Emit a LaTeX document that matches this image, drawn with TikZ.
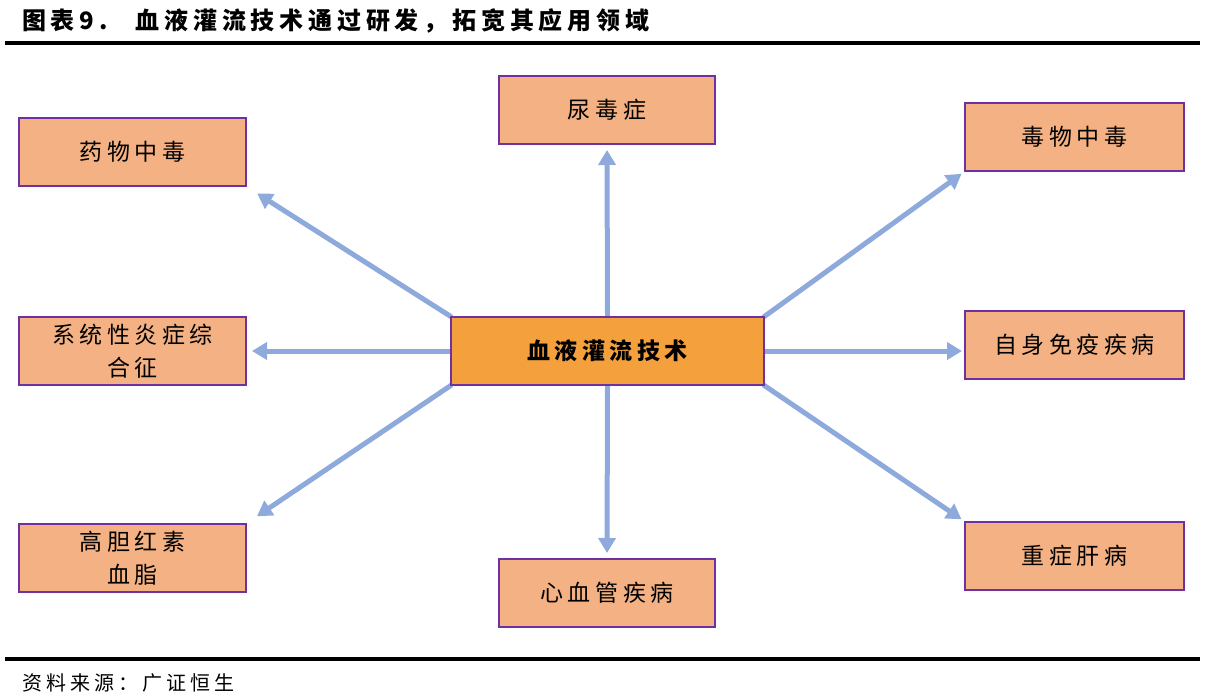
\documentclass[tikz,border=0pt]{standalone}
\usepackage{fontspec}
\setmainfont{Noto Sans CJK SC}
\newfontfamily\boxfont[LetterSpace=20]{Noto Sans CJK SC}
\newfontfamily\titlefont[LetterSpace=20]{Noto Sans CJK SC}
\usetikzlibrary{arrows.meta,backgrounds}
\definecolor{boxfill}{HTML}{F4B183}
\definecolor{boxline}{HTML}{7030A0}
\definecolor{cfill}{HTML}{F4A03C}
\definecolor{arr}{HTML}{8EA9DB}
\begin{document}
\begin{tikzpicture}[x=1pt,y=-1pt,
  leaf/.style={draw=boxline,fill=boxfill,line width=2pt,inner sep=0pt,
    align=center,font=\boxfont\fontsize{23}{33}\selectfont},
  hub/.style={draw=boxline,fill=cfill,line width=2pt,inner sep=0pt,
    align=center,font=\boxfont\bfseries\fontsize{23}{28}\selectfont},
  link/.style={draw=arr,line width=5pt,-{Triangle[width=17pt,length=15pt]}}]
\useasboundingbox (0,0) rectangle (1207,698);
% title
\node[anchor=west,inner sep=0pt,font=\titlefont\bfseries\fontsize{24}{28}\selectfont] (title) at (22,21) {图表9.\hspace{28pt}血液灌流技术通过研发，拓宽其应用领域};
\draw[line width=4pt] (5,43) coordinate (tl) -- (1200,43) coordinate (tr);
% boxes
\node[hub,minimum width=313pt,minimum height=68pt,anchor=north west] (c) at (450,316) {血液灌流技术};
\node[leaf,minimum width=216pt,minimum height=68pt,anchor=north west] (uremia) at (498,75) {尿毒症};
\node[leaf,minimum width=227pt,minimum height=68pt,anchor=north west] (drug) at (18,117) {药物中毒};
\node[leaf,minimum width=219pt,minimum height=68pt,anchor=north west] (poison) at (964,102) {毒物中毒};
\node[leaf,minimum width=227pt,minimum height=68pt,anchor=north west] (sirs) at (18,316) {系统性炎症综\\合征};
\node[leaf,minimum width=219pt,minimum height=68pt,anchor=north west] (auto) at (964,310) {自身免疫疾病};
\node[leaf,minimum width=227pt,minimum height=68pt,anchor=north west] (bili) at (18,523) {高胆红素\\血脂};
\node[leaf,minimum width=216pt,minimum height=68pt,anchor=north west] (cardio) at (498,558) {心血管疾病};
\node[leaf,minimum width=219pt,minimum height=68pt,anchor=north west] (liver) at (964,521) {重症肝病};
\begin{scope}[on background layer]
\draw[link,shorten >=5pt] (c.north) -- (uremia.south);
\draw[link,shorten >=12pt,shorten <=-2pt] (c.north west) -- (drug.south east);
\draw[link,shorten >=3pt,shorten <=-2pt] (c.north east) -- (poison.south west);
\draw[link,shorten >=5pt] (c.west) -- (c.west -| sirs.east);
\draw[link,shorten >=2pt] (c.east) -- (c.east -| auto.west);
\draw[link,shorten >=12pt,shorten <=-2pt] (c.south west) -- (bili.north east);
\draw[link,shorten >=5pt] (c.south) -- (cardio.north);
\draw[link,shorten >=3pt,shorten <=-2pt] (c.south east) -- (liver.north west);
\end{scope}
% footer
\draw[line width=4pt] (5,659) coordinate (bl) -- (1200,659) coordinate (br);
\node[anchor=west,inner sep=0pt,font=\boxfont\fontsize{20}{24}\selectfont] (src) at (22,683) {资料来源：广证恒生};
\end{tikzpicture}
\end{document}
